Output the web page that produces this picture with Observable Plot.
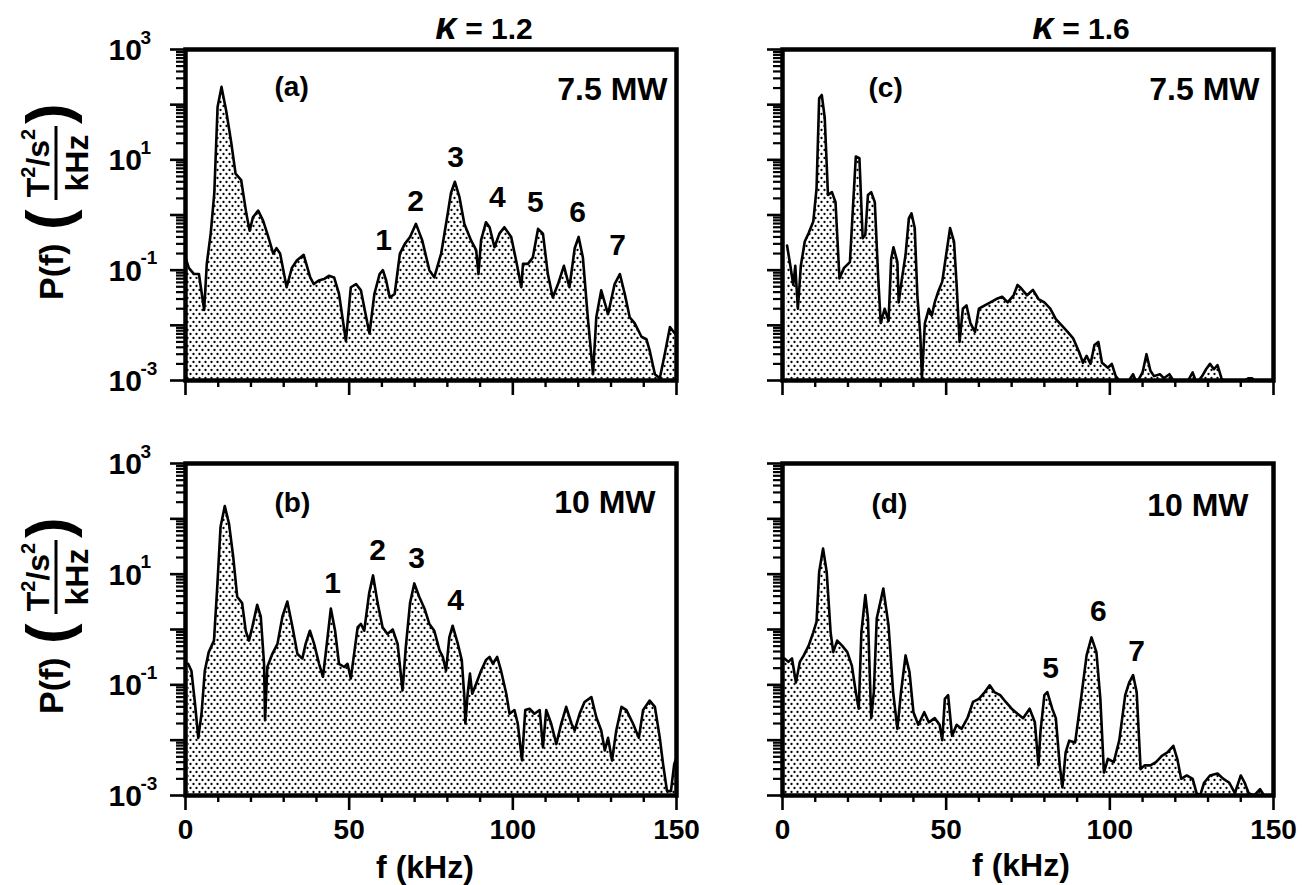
<!DOCTYPE html>
<html>
<head>
<meta charset="utf-8">
<script src="https://cdn.jsdelivr.net/npm/d3@7"></script>
<script src="https://cdn.jsdelivr.net/npm/@observablehq/plot@0.6"></script>
<style>
  html, body { margin: 0; padding: 0; background: #fff; }
  #wrap { position: relative; width: 1305px; height: 885px; overflow: hidden; background: #fff; }
</style>
</head>
<body>
<div id="wrap">
  <svg width="0" height="0" style="position:absolute;left:0;top:0">
    <defs>
      <pattern id="dots" patternUnits="userSpaceOnUse" width="6" height="8">
        <circle cx="1.5" cy="2" r="1.15" fill="#000"></circle>
        <circle cx="4.5" cy="6" r="1.15" fill="#000"></circle>
      </pattern>
    </defs>
  </svg>
</div>
<script>
// ---------------- data ----------------
// (a) kappa = 1.2, 7.5 MW
const fA = [0,1.0,2.6,4.1,5.7,6.5,7.7,8.8,9.8,11.0,12.4,13.9,15.3,17.0,18.6,19.6,20.6,22.2,23.7,25.3,26.8,27.8,28.9,30.9,32.5,34.0,36.1,38.1,39.2,40.7,42.3,43.8,45.4,46.9,49.0,50.5,52.1,53.6,55.2,56.2,57.7,59.3,60.3,61.3,62.4,63.9,65.5,67.0,68.6,70.4,72.3,74.5,76.0,78.1,80.1,81.1,82.3,83.7,85.2,87.2,88.8,89.5,90.3,91.8,92.9,94.4,95.9,97.4,99.5,101.0,102.6,103.1,104.6,106.1,107.7,109.2,110.7,112.2,113.8,115.6,117.3,118.9,120.1,121.4,122.9,124.5,125.5,127.0,129.1,131.1,132.7,134.2,135.7,137.2,139.3,140.8,141.8,143.4,144.9,146.4,148.0,149.5,150];
const pA = [0.17,0.11,0.085,0.085,0.019,0.13,0.46,2.5,91,210,79,22,5.6,4.3,1.05,0.52,0.91,1.2,0.79,0.40,0.20,0.25,0.20,0.049,0.11,0.15,0.19,0.074,0.056,0.065,0.069,0.079,0.074,0.037,0.0052,0.049,0.056,0.043,0.014,0.0071,0.037,0.085,0.10,0.065,0.032,0.037,0.20,0.30,0.40,0.69,0.35,0.10,0.074,0.20,1.05,2.5,4.0,2.1,0.69,0.35,0.23,0.085,0.35,0.74,0.60,0.26,0.46,0.60,0.40,0.15,0.049,0.13,0.13,0.17,0.56,0.46,0.085,0.032,0.056,0.12,0.049,0.25,0.40,0.17,0.014,0.0013,0.014,0.043,0.016,0.056,0.085,0.037,0.014,0.011,0.0062,0.0056,0.0035,0.0013,0.0011,0.0030,0.0093,0.0071,0.008];

// (b) kappa = 1.2, 10 MW
const fB = [0.8,1.8,2.9,3.9,4.9,5.9,7.1,8.7,9.7,10.7,12.0,13.3,14.6,15.8,17.3,18.4,19.4,20.4,21.9,23.0,24.0,24.3,25.0,26.5,28.1,29.6,31.1,32.7,34.2,35.7,36.7,38.0,39.3,40.8,42.0,43.4,44.4,45.7,46.9,48.5,49.5,50.5,51.5,52.6,53.6,54.6,56.1,57.3,58.7,60.2,61.7,63.3,64.8,66.3,67.3,68.6,69.9,71.4,73.0,74.5,76.0,77.6,78.6,79.6,80.6,81.6,83.2,84.4,85.2,85.5,86.2,86.9,87.6,88.8,90.3,91.8,92.9,93.9,95.2,96.4,98.0,99.0,100.5,101.5,102.8,103.8,105.1,106.6,108.2,109.2,110.2,111.7,113.3,114.8,116.3,117.9,118.9,120.4,121.9,124.0,125.5,127.0,128.1,129.1,130.3,131.6,133.2,134.7,136.7,138.5,139.8,141.8,143.4,144.9,145.9,147.1,148.3,149.3,150];
const pB = [0.24,0.18,0.046,0.011,0.030,0.18,0.39,0.63,5.9,71,170,81,20,3.9,3.0,0.95,0.63,1.1,2.8,1.7,0.24,0.023,0.21,0.36,0.55,1.7,3.2,1.1,0.36,0.30,0.55,0.95,0.55,0.24,0.14,0.72,2.4,0.95,0.24,0.21,0.24,0.13,0.36,1.1,1.26,0.95,4.5,9.5,3.0,1.1,0.83,1.0,0.55,0.079,0.48,3.0,6.8,3.9,2.4,1.26,0.95,0.42,0.32,0.18,0.72,1.17,0.55,0.28,0.060,0.020,0.069,0.16,0.069,0.105,0.18,0.28,0.32,0.24,0.32,0.18,0.069,0.030,0.035,0.020,0.0043,0.035,0.037,0.030,0.035,0.0074,0.035,0.020,0.0085,0.020,0.040,0.020,0.015,0.030,0.049,0.060,0.026,0.015,0.0065,0.011,0.0043,0.015,0.040,0.035,0.020,0.011,0.035,0.052,0.040,0.011,0.0037,0.0012,0.0012,0.0037,0.0049];

// (c) kappa = 1.6, 7.5 MW
const fC = [1.4,2.4,3.3,3.9,4.7,5.6,6.8,8.0,9.4,10.4,11.2,12.0,12.9,13.9,15.1,16.2,17.4,18.8,20.6,21.5,22.4,23.5,24.5,25.3,26.1,27.1,28.2,29.2,30.0,31.2,32.4,33.2,33.9,35.1,35.5,36.5,37.6,38.6,39.4,40.4,41.2,42.1,42.6,43.5,44.7,45.6,46.5,47.6,48.8,50.0,51.2,52.4,53.2,54.1,55.1,56.2,57.4,58.8,60.0,61.8,63.5,65.3,67.1,68.8,70.6,71.8,72.9,74.7,76.5,78.2,80.0,81.8,83.5,85.3,87.1,88.8,90.6,91.8,92.9,94.1,95.3,96.5,97.6,99.4,100.6,101.8,102.9,104.7,107.1,108.2,110.0,111.2,112.4,113.5,115.3,116.5,118.2,119.4,121.2,123.5,125.3,126.5,128.2,129.4,130.6,131.8,132.9,134.1,135.3,137.6,140.0,142.4,143.5,144.7,150];
const pC = [0.28,0.12,0.054,0.12,0.020,0.12,0.33,0.47,0.76,3.0,130,150,58,2.3,2.6,1.7,0.071,0.11,0.14,1.3,11.5,10.7,0.38,0.44,2.3,2.6,1.7,0.081,0.011,0.020,0.012,0.16,0.26,0.14,0.026,0.071,0.19,0.87,1.07,0.58,0.035,0.0066,0.0011,0.011,0.020,0.015,0.026,0.041,0.062,0.19,0.58,0.33,0.054,0.0050,0.020,0.023,0.011,0.0076,0.020,0.023,0.026,0.030,0.033,0.026,0.035,0.054,0.047,0.035,0.044,0.030,0.026,0.020,0.013,0.010,0.0076,0.0058,0.0033,0.0021,0.0028,0.0020,0.0044,0.0050,0.0021,0.0017,0.0020,0.0012,0.0010,0.0008,0.0013,0.0009,0.0014,0.0030,0.0015,0.0012,0.0013,0.0011,0.0013,0.0010,0.0009,0.0009,0.0014,0.0009,0.0012,0.0016,0.0020,0.0016,0.0019,0.0011,0.0009,0.0009,0.0009,0.0011,0.0011,0.0009,0.0009];

// (d) kappa = 1.6, 10 MW
const fD = [0.6,1.8,2.9,4.1,5.3,6.5,8.0,9.4,10.4,11.2,12.4,13.5,14.7,15.5,16.7,18.2,19.8,21.2,22.4,23.3,24.1,25.3,26.1,27.1,27.9,28.8,30.8,32.4,33.8,35.1,36.2,37.6,38.8,40.0,41.5,43.3,44.7,46.5,48.0,48.8,49.6,50.6,51.8,53.2,54.7,56.5,58.2,60.0,61.8,63.3,64.7,66.5,68.2,70.0,71.8,73.5,75.5,77.1,78.2,78.8,80.0,80.9,82.4,83.5,84.7,85.5,86.5,87.6,89.4,91.2,92.9,94.4,95.9,97.1,98.2,99.4,101.2,102.9,104.7,105.9,107.1,108.2,109.4,110.6,112.4,114.1,115.9,117.6,119.4,120.6,121.8,123.5,125.3,126.5,127.6,128.8,130.6,132.9,134.7,136.5,138.2,140.0,141.2,142.4,144.1,145.9,147.1,150];
const pD = [0.30,0.26,0.30,0.11,0.26,0.34,0.51,0.89,1.38,11,29,11,0.89,0.39,0.63,0.51,0.39,0.22,0.074,0.037,0.89,4.2,1.6,0.025,0.074,1.6,5.5,1.17,0.074,0.016,0.074,0.34,0.17,0.032,0.019,0.032,0.021,0.025,0.019,0.010,0.056,0.065,0.012,0.019,0.016,0.025,0.049,0.056,0.074,0.098,0.074,0.065,0.049,0.037,0.030,0.025,0.037,0.021,0.0035,0.014,0.065,0.074,0.037,0.025,0.0035,0.0014,0.0060,0.0098,0.0091,0.056,0.34,0.72,0.39,0.056,0.0026,0.0046,0.0040,0.010,0.065,0.11,0.15,0.074,0.0030,0.0035,0.0035,0.0040,0.0052,0.0060,0.0079,0.0046,0.0020,0.0023,0.0020,0.0011,0.0010,0.0017,0.0023,0.0025,0.0020,0.0017,0.0011,0.0023,0.0017,0.0011,0.0010,0.0013,0.0010,0.0010];

// harmonic labels (label centre in data units)
const peaksA = [{f:60.5,p:0.35,t:"1"},{f:70.3,p:1.8,t:"2"},{f:82.5,p:11,t:"3"},{f:95.3,p:2.1,t:"4"},{f:106.9,p:1.7,t:"5"},{f:119.8,p:1.1,t:"6"},{f:132.0,p:0.28,t:"7"}];
const peaksB = [{f:44.9,p:6.8,t:"1"},{f:58.7,p:27,t:"2"},{f:70.6,p:19,t:"3"},{f:82.5,p:3.3,t:"4"}];
const peaksC = [];
const peaksD = [{f:81.9,p:0.20,t:"5"},{f:96.5,p:2.1,t:"6"},{f:108.2,p:0.40,t:"7"}];

// axes
const yMajor = [1e-3,1e-2,1e-1,1,10,100,1000];
const yMinor = [2,3,4,5,6,7,8,9].flatMap(m => [1e-3,1e-2,1e-1,1,10,100].map(d => m * d));
const yTickValues = [1e3, 1e1, 1e-1, 1e-3];
const yTickExponents = ["3", "1", "-1", "-3"];
const xMajor = [0, 50, 100, 150];
const xMinor = [10,20,30,40,60,70,80,90,110,120,130,140];
const kappas = ["1.2", "1.6"];
const powers = ["7.5 MW", "10 MW"];
const letters = ["(a)", "(b)", "(c)", "(d)"];

// ---------------- drawing ----------------
const FONT = '"Liberation Sans", Arial, Helvetica, sans-serif';
const wrap = document.getElementById("wrap");

function panel(cfg) {
  if (cfg.f.length !== cfg.p.length) throw new Error("length mismatch " + cfg.letter);
  const data = cfg.f.map((f, i) => ({f, p: cfg.p[i]}));
  const marks = [
    Plot.areaY(data, {x: "f", y1: () => 1e-4, y2: "p", fill: "url(#dots)", clip: true}),
    Plot.lineY(data, {x: "f", y: "p", stroke: "#000", strokeWidth: 2.6, strokeLinejoin: "round", clip: true}),
    Plot.axisY({ticks: yMinor, anchor: "left", tickSize: 9, tickFormat: () => "", label: null, strokeWidth: 2.2}),
    Plot.axisY({ticks: yMajor, anchor: "left", tickSize: 15, tickFormat: () => "", label: null, strokeWidth: 2.6}),
    Plot.axisX({ticks: xMinor, anchor: "bottom", tickSize: 7, tickFormat: () => "", label: null, strokeWidth: 2.4}),
    Plot.axisX({ticks: xMajor, anchor: "bottom", tickSize: 15, tickPadding: 9,
      tickFormat: cfg.xLabels ? (d => String(d)) : (() => ""), label: null, strokeWidth: 2.6, fontSize: 28}),
    Plot.frame({stroke: "#000", strokeWidth: 4.5}),
    Plot.text([cfg.letter], {frameAnchor: "top-left", dx: cfg.letterDx, dy: cfg.letterDy, fontSize: 28}),
    Plot.text([cfg.power], {frameAnchor: "top-right", textAnchor: "end", dx: cfg.powerDx, dy: cfg.powerDy, fontSize: 32}),
    Plot.text(cfg.peaks, {x: "f", y: "p", text: "t", fontSize: 30})
  ];
  if (cfg.yLabels) {
    marks.push(Plot.text(yTickValues, {y: d => d, text: () => "10", frameAnchor: "left", textAnchor: "start", dx: -77, dy: 1, fontSize: 30}));
    marks.push(Plot.text(yTickValues, {y: d => d, text: (d, i) => yTickExponents[i], frameAnchor: "left", textAnchor: "start", dx: -45, dy: -12, fontSize: 19}));
  }
  const svg = Plot.plot({
    width: cfg.width, height: cfg.height,
    marginLeft: cfg.ml, marginRight: cfg.mr, marginTop: cfg.mt, marginBottom: cfg.mb,
    x: {domain: [0, 150], axis: null, label: null},
    y: {type: "log", domain: [1e-3, 1e3], axis: null, label: null},
    style: {fontFamily: FONT, fontWeight: "bold", fontSize: "28px", background: "transparent", overflow: "visible", color: "#000"},
    marks
  });
  svg.style.position = "absolute";
  svg.style.left = cfg.left + "px";
  svg.style.top = cfg.top + "px";
  svg.style.maxWidth = "none";
  wrap.appendChild(svg);
}

panel({f: fA, p: pA, peaks: peaksA, letter: letters[0], power: powers[0], yLabels: true, xLabels: false,
  left: 0, top: 0, width: 700, height: 420, ml: 185, mr: 24, mt: 49, mb: 40,
  letterDx: 89, letterDy: 27, powerDx: -9, powerDy: 28});
panel({f: fC, p: pC, peaks: peaksC, letter: letters[2], power: powers[0], yLabels: false, xLabels: false,
  left: 700, top: 0, width: 605, height: 420, ml: 82, mr: 32, mt: 49, mb: 40,
  letterDx: 86, letterDy: 28, powerDx: -14, powerDy: 28});
panel({f: fB, p: pB, peaks: peaksB, letter: letters[1], power: powers[1], yLabels: true, xLabels: true,
  left: 0, top: 414, width: 700, height: 471, ml: 185, mr: 24, mt: 49, mb: 90,
  letterDx: 89, letterDy: 29, powerDx: -21, powerDy: 27});
panel({f: fD, p: pD, peaks: peaksD, letter: letters[3], power: powers[1], yLabels: false, xLabels: true,
  left: 700, top: 414, width: 605, height: 471, ml: 82, mr: 32, mt: 49, mb: 90,
  letterDx: 89, letterDy: 30, powerDx: -25, powerDy: 30});

// ---------------- overlay titles / axis titles ----------------
const ov = d3.select(wrap).append("svg")
  .attr("width", 1305).attr("height", 885)
  .style("position", "absolute").style("left", "0px").style("top", "0px")
  .style("pointer-events", "none")
  .attr("font-family", FONT).attr("font-weight", "bold").attr("fill", "#000");

[[484, kappas[0]], [1081, kappas[1]]].forEach(([x, v]) => {
  const t = ov.append("text").attr("x", x).attr("y", 39).attr("text-anchor", "middle").attr("font-size", 30);
  t.append("tspan").attr("font-style", "italic").attr("font-size", 38).text("κ");
  t.append("tspan").text(" = " + v);
});

function yTitle(Y0) {
  const g = ov.append("g").attr("transform", `translate(55,${Y0}) rotate(-90)`);
  g.append("text").attr("x", 0).attr("y", 8).attr("font-size", 34).text("P(f)");
  g.append("text").attr("x", 70).attr("y", 14).attr("font-size", 62).text("(");
  const num = g.append("text").attr("x", 137).attr("y", -6).attr("text-anchor", "middle").attr("font-size", 32);
  num.append("tspan").text("T");
  num.append("tspan").attr("font-size", 20).attr("dy", -14).text("2");
  num.append("tspan").attr("dy", 14).text("/s");
  num.append("tspan").attr("font-size", 20).attr("dy", -14).text("2");
  g.append("line").attr("x1", 100).attr("x2", 174).attr("y1", 1).attr("y2", 1).attr("stroke", "#000").attr("stroke-width", 3);
  g.append("text").attr("x", 137).attr("y", 33).attr("text-anchor", "middle").attr("font-size", 32).text("kHz");
  g.append("text").attr("x", 176).attr("y", 14).attr("font-size", 62).text(")");
}
yTitle(300);
yTitle(714);

[[425, 878], [1021, 876]].forEach(([x, y]) => {
  ov.append("text").attr("x", x).attr("y", y).attr("text-anchor", "middle").attr("font-size", 32).text("f (kHz)");
});
</script>
</body>
</html>
